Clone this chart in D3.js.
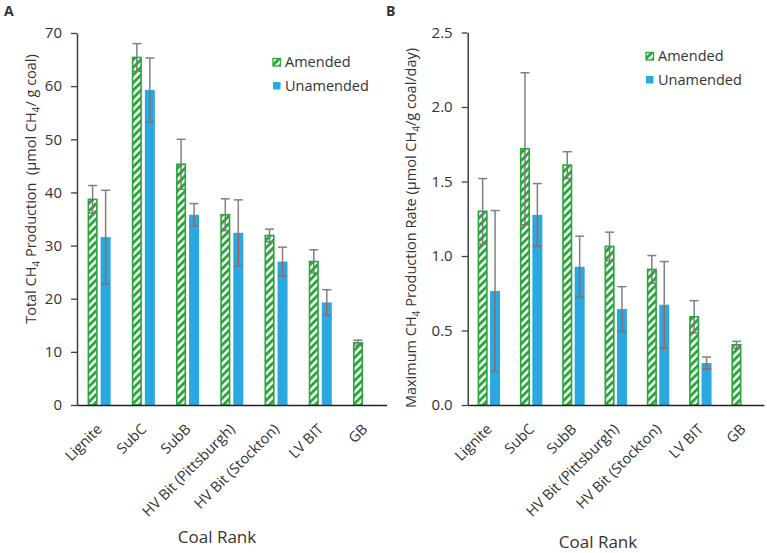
<!DOCTYPE html>
<html><head><meta charset="utf-8">
<script src="https://cdn.jsdelivr.net/npm/d3@7"></script>
<style>body{margin:0;background:#fff}svg{display:block}text{font-family:"Open Sans",sans-serif;fill:#333}</style>
</head><body>
<svg id="c" width="767" height="553"></svg>
<script>
const categories = ["Lignite","SubC","SubB","HV Bit (Pittsburgh)","HV Bit (Stockton)","LV BIT","GB"];
const seriesNames = ["Amended","Unamended"];
// Panel A: Total CH4 production (µmol CH4 / g coal)
const totalAmended = [38.7, 65.4, 45.3, 35.8, 31.9, 27.0, 11.7];
const totalAmendedErr = [2.6, 2.6, 4.7, 3.0, 1.2, 2.2, 0.5];
const totalUnamended = [31.6, 59.3, 35.8, 32.4, 27.0, 19.3, null];
const totalUnamendedErr = [8.8, 6.0, 2.1, 6.2, 2.7, 2.4, null];
const totalTicks = [0,10,20,30,40,50,60,70];
// Panel B: Maximum CH4 production rate (µmol CH4 / g coal / day)
const rateAmended = [1.30, 1.72, 1.61, 1.064, 0.91, 0.592, 0.404];
const rateAmendedErr = [0.22, 0.51, 0.09, 0.096, 0.093, 0.108, 0.023];
const rateUnamended = [0.765, 1.276, 0.928, 0.644, 0.673, 0.282, null];
const rateUnamendedErr = [0.54, 0.21, 0.205, 0.15, 0.29, 0.04, null];
const rateTicks = [0,0.5,1.0,1.5,2.0,2.5];

const svg = d3.select("#c");
const GREEN = "#2aa63c", BLUE = "#2aa8e0", ERR = "#808080", ERR_LOW = "#a8625a", AXIS = "#404040";

const defs = svg.append("defs");
const pat = defs.append("pattern").attr("id","hatch").attr("patternUnits","userSpaceOnUse")
  .attr("width",5.4).attr("height",5.4).attr("patternTransform","rotate(45)");
pat.append("rect").attr("width",5.4).attr("height",5.4).attr("fill","#fff");
pat.append("rect").attr("width",2.9).attr("height",5.4).attr("fill",GREEN);

function panel(cfg){
  const g = svg.append("g");
  const x = d3.scaleBand().domain(categories).range([cfg.x0, cfg.x1]).padding(0);
  const y = d3.scaleLinear().domain(cfg.domain).range([405, cfg.yTop]);
  const bw = 10;
  const cx = c => x(c) + x.bandwidth()/2;
  const series = [
    {vals: cfg.amended, errs: cfg.amendedErr, off: -bw - cfg.gap/2, amended:true},
    {vals: cfg.unamended, errs: cfg.unamendedErr, off: cfg.gap/2, amended:false}
  ];
  series.forEach(s => {
    const data = categories.map((c,i)=>({c, v:s.vals[i], e:s.errs[i]})).filter(d=>d.v!=null);
    g.selectAll(null).data(data).enter().append("rect")
      .attr("x", d=>cx(d.c)+s.off + (s.amended?0.75:0)).attr("width", s.amended?bw-1.5:bw)
      .attr("y", d=>y(d.v)).attr("height", d=>y(0)-y(d.v))
      .attr("fill", s.amended?"url(#hatch)":BLUE)
      .attr("stroke", s.amended?GREEN:"none").attr("stroke-width",1.6);
    data.forEach(d=>{
      const ex = cx(d.c)+s.off+bw/2;
      const lowC = s.amended?"#7a7a7a":ERR_LOW;
      g.append("line").attr("x1",ex).attr("x2",ex).attr("y1",y(d.v+d.e)).attr("y2",y(d.v))
        .attr("stroke",ERR).attr("stroke-width",1.5);
      g.append("line").attr("x1",ex).attr("x2",ex).attr("y1",y(d.v)).attr("y2",y(d.v-d.e))
        .attr("stroke",lowC).attr("stroke-width",1.5);
      g.append("line").attr("x1",ex-4.5).attr("x2",ex+4.5).attr("y1",y(d.v+d.e)).attr("y2",y(d.v+d.e))
        .attr("stroke",ERR).attr("stroke-width",1.5);
      g.append("line").attr("x1",ex-4.5).attr("x2",ex+4.5).attr("y1",y(d.v-d.e)).attr("y2",y(d.v-d.e))
        .attr("stroke",lowC).attr("stroke-width",1.5);
    });
  });
  // y axis
  const ya = g.append("g").attr("transform",`translate(${cfg.x0},0)`)
    .call(d3.axisLeft(y).tickValues(cfg.ticks).tickFormat(cfg.fmt).tickSize(6).tickSizeOuter(0).tickPadding(9));
  ya.select(".domain").attr("stroke",AXIS).attr("stroke-width",1.5);
  ya.selectAll(".tick line").attr("stroke",AXIS).attr("stroke-width",1.3);
  ya.selectAll(".tick text").attr("font-size",15).attr("font-family","Open Sans").attr("fill","#333");
  // x axis
  const xa = g.append("g").attr("transform","translate(0,405)")
    .call(d3.axisBottom(x).tickSize(0).tickSizeOuter(0).tickPadding(0));
  xa.select(".domain").attr("stroke","#222").attr("stroke-width",1.5);
  xa.selectAll(".tick text").attr("font-size",14.5).attr("font-family","Open Sans").attr("fill","#333")
    .attr("text-anchor","end").attr("dy",0).attr("y",0)
    .attr("transform","translate(4,430) rotate(-45)");
  xa.selectAll(".tick").attr("transform", d=>`translate(${cx(d)},-405)`);
  // titles
  g.append("text").attr("x",cfg.titleX).attr("y",cfg.titleY).attr("text-anchor","middle")
    .attr("font-size",17).text("Coal Rank");
  const yl = g.append("text").attr("transform",`translate(${cfg.ylabX},${cfg.ylabY}) rotate(-90)`)
    .attr("text-anchor","middle").attr("font-size",cfg.ylabSize);
  cfg.ylab.forEach(p=>{
    const t = yl.append("tspan").text(p.t);
    if(p.sub){t.attr("font-size",cfg.ylabSize*0.7).attr("dy",4);} else if(p.after){t.attr("dy",-4);}
  });
  g.append("text").attr("x",cfg.letterX).attr("y",16).attr("font-size",14).attr("font-weight","bold")
    .attr("fill","#222").text(cfg.letter);
  // legend
  const lg = g.append("g");
  seriesNames.forEach((n,i)=>{
    lg.append("rect").attr("x",cfg.legX).attr("y",cfg.legY+i*23.5-8.5).attr("width",7.5).attr("height",7.5)
      .attr("fill", i==0?"url(#hatch)":BLUE).attr("stroke", i==0?GREEN:"none").attr("stroke-width",1.3);
    lg.append("text").attr("x",cfg.legX+12).attr("y",cfg.legY+i*23.5).attr("font-size",14.5).text(n);
  });
}

panel({x0:77, x1:386.6, yTop:33, domain:[0,70], ticks:totalTicks, fmt:d3.format("d"),
  amended:totalAmended, amendedErr:totalAmendedErr, unamended:totalUnamended, unamendedErr:totalUnamendedErr,
  gap:3, titleX:217, titleY:543, ylabX:36, ylabY:189, ylabSize:14.5, letter:"A", letterX:4,
  ylab:[{t:"Total CH"},{t:"4",sub:true},{t:" Production\u00a0\u00a0(µmol CH",after:true},{t:"4",sub:true},{t:"/ g coal)",after:true}],
  legX:273, legY:67});
panel({x0:467.7, x1:763.8, yTop:32.5, domain:[0,2.5], ticks:rateTicks, fmt:d3.format(".1f"),
  amended:rateAmended, amendedErr:rateAmendedErr, unamended:rateUnamended, unamendedErr:rateUnamendedErr,
  gap:2.4, titleX:598, titleY:548, ylabX:416, ylabY:228, ylabSize:14.5, letter:"B", letterX:386,
  ylab:[{t:"Maximum CH"},{t:"4",sub:true},{t:" Production Rate (µmol CH",after:true},{t:"4",sub:true},{t:"/g coal/day)",after:true}],
  legX:646, legY:61});
</script>
</body></html>
